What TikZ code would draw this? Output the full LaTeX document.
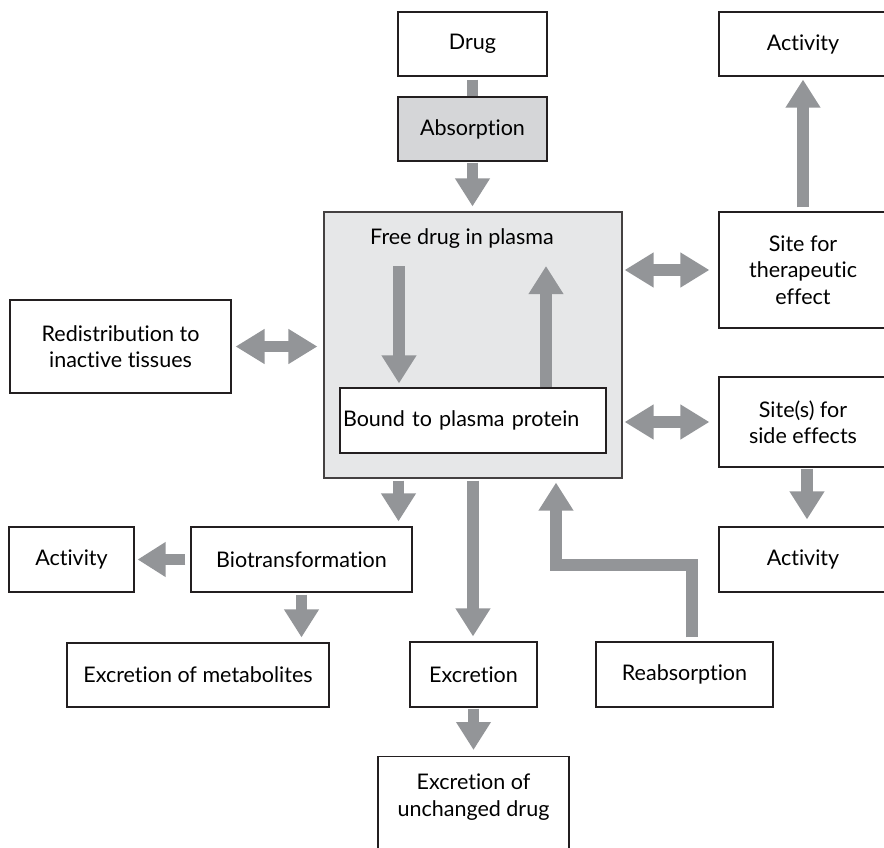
\documentclass[tikz,border=0pt]{standalone}
\usepackage{fontspec}
\setmainfont{Lato}[Ligatures=NoCommon]
\usetikzlibrary{arrows.meta,calc}
\definecolor{arrgray}{HTML}{939598}
\definecolor{boxline}{HTML}{231F20}
\definecolor{plasmafill}{HTML}{E6E7E8}
\definecolor{absfill}{HTML}{D5D6D8}
\tikzset{
  box/.style={draw=boxline, line width=1.1pt, fill=white, inner sep=0pt, align=center,
    font=\fontsize{21.5}{26.5}\selectfont},
  txt/.style={inner sep=0pt, align=center, font=\fontsize{21.5}{26.5}\selectfont},
  arr/.style={draw=arrgray, line width=11.5pt, -{Triangle[width=33pt,length=28pt]}},
  darr/.style={draw=arrgray, line width=11.5pt, {Triangle[width=33pt,length=29pt]}-{Triangle[width=33pt,length=29pt]}},
  barline/.style={draw=arrgray, line width=11.5pt},
}
\begin{document}
\begin{tikzpicture}[x=1pt,y=-1pt]
\useasboundingbox (0,0) rectangle (884,847);
% central box
\node[box, draw=boxline!85, fill=plasmafill, minimum width=298pt, minimum height=266pt] (plasma) at (473,345) {};
\node[txt] (free) at (462,239) {Free drug in plasma};
\node[box, minimum width=266pt, minimum height=65pt, text width=260pt, align=left] (bound) at (473,420.5) {Bound to plasma protein};
% top
\node[box, minimum width=149pt, minimum height=64pt] (drug) at (472.5,44) {Drug};
\node[box, fill=absfill, minimum width=149pt, minimum height=64pt] (absorption) at (472.5,129) {Absorption};
% right column
\node[box, minimum width=168pt, minimum height=64pt] (acttop) at (803,44) {Activity};
\node[box, minimum width=168pt, minimum height=116pt] (sitet) at (803,270) {Site for\\therapeutic\\effect};
\node[box, minimum width=168pt, minimum height=90pt] (sites) at (803,422) {Site(s) for\\side effects};
\node[box, minimum width=168pt, minimum height=65pt] (actr) at (803,559.5) {Activity};
% left
\node[box, minimum width=221pt, minimum height=93pt] (redis) at (120.5,346.5) {Redistribution to\\inactive tissues};
\node[box, minimum width=125pt, minimum height=65pt] (actl) at (71.5,559.5) {Activity};
\node[box, minimum width=221pt, minimum height=65pt] (bio) at (301.5,559.5) {Biotransformation};
\node[box, minimum width=262pt, minimum height=64pt] (exm) at (198,675) {Excretion of metabolites};
% bottom
\node[box, minimum width=127pt, minimum height=65pt] (exc) at (473.5,674.5) {Excretion};
\node[box, minimum width=177pt, minimum height=65pt] (reab) at (684.5,674.5) {Reabsorption};
\node[box, minimum width=191pt, minimum height=114pt, anchor=north] (unch) at (473.5,756) {};
\node[txt] (unchtxt) at ($(unch.north)+(0,41)$) {Excretion of\\unchanged drug};
% connectors
\draw[barline, shorten <=3pt] (drug.south) -- (absorption.north);
\draw[arr, shorten <=1pt, shorten >=5pt] (absorption.south) -- (absorption.south |- plasma.north);
\coordinate (dn) at (399,266);
\coordinate (up) at (546,266);
\draw[arr, shorten >=4pt] (dn) -- (dn |- bound.north);
\draw[arr] (up |- bound.north) -- (up);
\draw[darr, shorten <=2pt, shorten >=9pt] (plasma.east |- sitet.center) -- (sitet.west);
\draw[darr, shorten <=2pt, shorten >=9pt] (plasma.east |- sites.center) -- (sites.west);
\draw[darr, shorten <=4pt, shorten >=6pt] (redis.east) -- (redis.east -| plasma.west);
\draw[arr, shorten <=4pt, shorten >=3pt] (sitet.north) -- (acttop.south);
\draw[arr, shorten <=1pt, shorten >=7pt] ([xshift=4pt]sites.south) -- ([xshift=4pt]actr.north);
\draw[arr, shorten <=2pt, shorten >=5pt] ([xshift=-74.5pt]plasma.south) -- ([xshift=-74.5pt]plasma.south |- bio.north);
\draw[arr, shorten <=2pt, shorten >=5pt] (plasma.south) -- (plasma.south |- exc.north);
\draw[arr, shorten <=1pt, shorten >=6pt] (exc.south) -- (exc.south |- unch.north);
\draw[arr, shorten <=2pt, shorten >=5pt] (bio.south) -- (bio.south |- exm.north);
\draw[arr, shorten <=5pt, shorten >=3pt] (bio.west) -- (actl.east);
\coordinate (rb) at (556,565);
\draw[arr, line join=miter, shorten <=4pt, shorten >=4pt] ([xshift=7.5pt]reab.north) |- (rb) -- (rb |- plasma.south);
\end{tikzpicture}
\end{document}
